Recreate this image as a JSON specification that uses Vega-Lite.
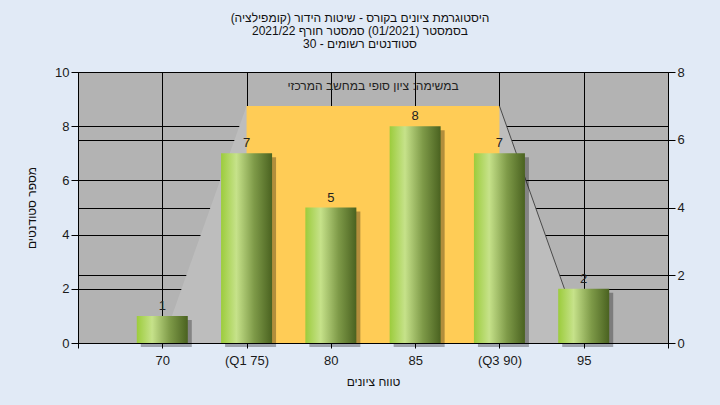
{
  "$schema": "https://vega.github.io/schema/vega-lite/v6.json",
  "width": 590,
  "height": 271,
  "autosize": "none",
  "padding": {"left": 78, "top": 72, "right": 52, "bottom": 62},
  "background": "#e1eaf6",
  "title": {
    "text": ["היסטוגרמת ציונים בקורס - שיטות הידור (קומפילציה)", "בסמסטר  (01/2021)  סמסטר חורף 2021/22", "סטודנטים רשומים - 30"],
    "font": "Liberation Sans",
    "fontSize": 12,
    "fontWeight": "normal",
    "color": "#111111",
    "lineHeight": 13,
    "anchor": "middle",
    "dx": -13,
    "offset": 15
  },
  "config": {
    "view": {"fill": "#b3b3b3", "stroke": null},
    "font": "Liberation Sans",
    "axis": {
      "domainColor": "#000000",
      "domainWidth": 1,
      "tickColor": "#000000",
      "gridColor": "#000000",
      "gridOpacity": 1,
      "gridWidth": 1,
      "labelFont": "Liberation Sans",
      "labelFontSize": 13,
      "labelColor": "#1a1a1a",
      "titleFont": "Liberation Sans",
      "titleFontSize": 12,
      "titleFontWeight": "normal",
      "titleColor": "#111111"
    }
  },
  "datasets": {
    "bars": [
      {"score": 70, "count": 1},
      {"score": 75, "count": 7},
      {"score": 80, "count": 5},
      {"score": 85, "count": 8},
      {"score": 90, "count": 7},
      {"score": 95, "count": 2}
    ],
    "shape": [
      {"score": 70, "h": 0},
      {"score": 75, "h": 7},
      {"score": 90, "h": 7},
      {"score": 95, "h": 0}
    ],
    "box": [{"q1": 75, "q3": 90, "h": 7, "base": 0}],
    "note": [{"text": "במשימה: ציון סופי במחשב המרכזי"}]
  },
  "layer": [
    {
      "layer": [
        {
          "data": {"name": "shape"},
          "mark": {"type": "area", "color": "#bdbdbd", "opacity": 1},
          "encoding": {
            "x": {"field": "score", "type": "quantitative", "scale": {"domain": [65, 100], "nice": false, "zero": false, "padding": 0},
              "axis": {
                "values": [65, 70, 75, 80, 85, 90, 95, 100],
                "labelExpr": "datum.value == 75 ? '(Q1 75)' : datum.value == 90 ? '(Q3 90)' : (datum.value == 65 || datum.value == 100) ? '' : datum.label",
                "grid": true,
                "tickSize": 5,
                "labelPadding": 6,
                "title": "טווח ציונים",
                "titlePadding": 9
              }
            },
            "y": {"field": "h", "type": "quantitative", "scale": {"domain": [0, 8], "nice": false},
              "axis": {"orient": "right", "values": [0, 2, 4, 6, 8], "grid": true, "tickSize": 7, "labelPadding": 2, "title": null}
            }
          }
        },
        {
          "data": {"name": "box"},
          "mark": {"type": "rect", "color": "#ffcc56"},
          "encoding": {
            "x": {"field": "q1", "type": "quantitative"},
            "x2": {"field": "q3"},
            "y": {"field": "h", "type": "quantitative"},
            "y2": {"field": "base"}
          }
        },
        {
          "data": {"name": "shape"},
          "transform": [{"filter": "datum.score >= 90"}],
          "mark": {"type": "line", "color": "#4a4a4a", "strokeWidth": 1},
          "encoding": {
            "x": {"field": "score", "type": "quantitative"},
            "y": {"field": "h", "type": "quantitative"}
          }
        }
      ]
    },
    {
      "layer": [
        {
          "data": {"name": "bars"},
          "mark": {"type": "bar", "width": 51, "color": "#000000", "opacity": 0.3, "xOffset": 4, "yOffset": 4, "y2Offset": 4},
          "encoding": {
            "x": {"field": "score", "type": "quantitative"},
            "y": {"field": "count", "type": "quantitative", "scale": {"domain": [0, 10], "nice": false},
              "axis": {"orient": "left", "values": [0, 2, 4, 6, 8, 10], "grid": true, "tickSize": 7, "labelPadding": 2, "title": "מספר סטודנטים", "titlePadding": 16}
            }
          }
        },
        {
          "data": {"name": "bars"},
          "mark": {
            "type": "bar",
            "width": 51,
            "color": {
              "gradient": "linear",
              "x1": 0, "x2": 1, "y1": 0, "y2": 0,
              "stops": [
                {"offset": 0, "color": "#9ccc3c"},
                {"offset": 0.3, "color": "#c6e28a"},
                {"offset": 0.65, "color": "#7e9a48"},
                {"offset": 1, "color": "#4a6220"}
              ]
            }
          },
          "encoding": {
            "x": {"field": "score", "type": "quantitative"},
            "y": {"field": "count", "type": "quantitative"}
          }
        },
        {
          "data": {"name": "bars"},
          "mark": {"type": "text", "baseline": "alphabetic", "dy": -6, "fontSize": 13, "color": "#222222"},
          "encoding": {
            "x": {"field": "score", "type": "quantitative"},
            "y": {"field": "count", "type": "quantitative"},
            "text": {"field": "count"}
          }
        },
        {
          "data": {"name": "note"},
          "mark": {"type": "text", "fontSize": 12, "color": "#222222", "baseline": "middle"},
          "encoding": {
            "x": {"datum": 82.5, "type": "quantitative"},
            "y": {"datum": 9.5, "type": "quantitative"},
            "text": {"field": "text"}
          }
        }
      ]
    }
  ],
  "resolve": {"scale": {"y": "independent"}}
}
